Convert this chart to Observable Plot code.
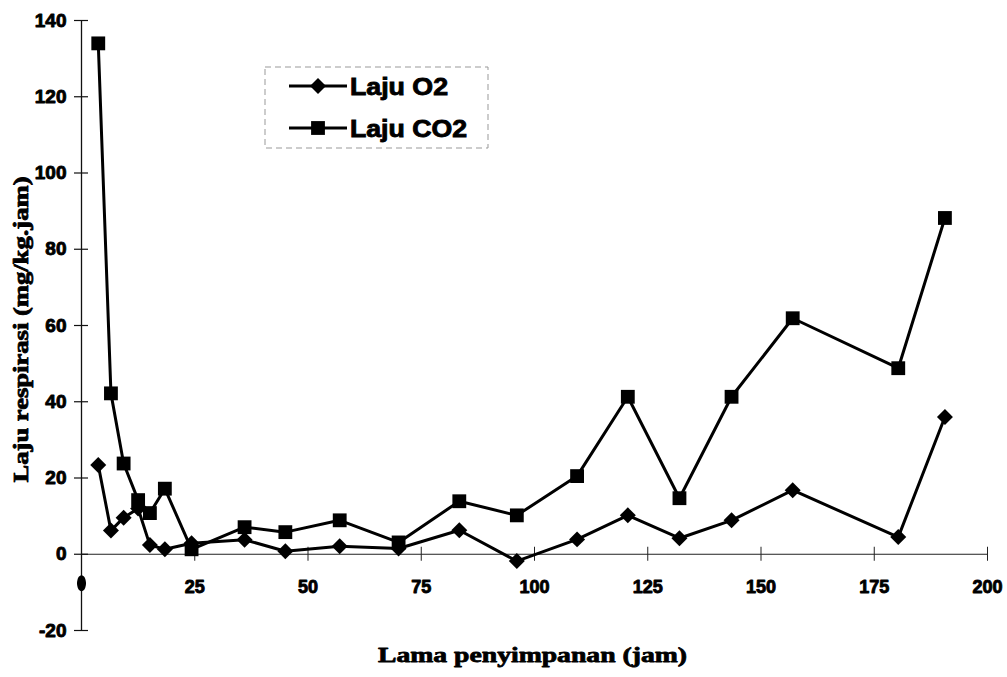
<!DOCTYPE html>
<html>
<head>
<meta charset="utf-8">
<script src="https://cdn.jsdelivr.net/npm/d3@7"></script>
<script src="https://cdn.jsdelivr.net/npm/@observablehq/plot@0.6"></script>
<style>
  html, body { margin: 0; padding: 0; background: #fff; }
  #chart { width: 1007px; height: 677px; }
</style>
</head>
<body>
<div id="chart"></div>
<script>
// ---- data ----
const hours = [3.7, 6.5, 9.3, 12.5, 15.1, 18.4, 24.3, 36, 45, 57, 70, 83.4, 96.1, 109.4, 120.6, 132, 143.5, 157, 180.3, 190.6];
const lajuO2 = [23.4, 6.2, 9.6, 12, 2.4, 1.3, 2.9, 3.8, 0.8, 2.1, 1.5, 6.3, -1.8, 3.9, 10.2, 4.2, 8.9, 16.8, 4.5, 36];
const lajuCO2 = [134, 42.2, 23.8, 14.2, 10.8, 17.2, 1.3, 7.1, 5.8, 8.9, 3.1, 13.9, 10.2, 20.5, 41.3, 14.7, 41.3, 61.9, 48.8, 88.2];
const strayHour = [0];
const strayValue = [-7.6];
const xTicks = [25, 50, 75, 100, 125, 150, 175, 200];
const yTicks = [-20, 0, 20, 40, 60, 80, 100, 120, 140];
const seriesNames = ["Laju O2", "Laju CO2"];
const xTitle = "Lama penyimpanan (jam)";
const yTitle = "Laju respirasi (mg/kg.jam)";

const o2Data = hours.map((h, i) => ({h, v: lajuO2[i]}));
const co2Data = hours.map((h, i) => ({h, v: lajuCO2[i]}));
const strayData = strayHour.map((h, i) => ({h, v: strayValue[i]}));

const ellipseSymbol = {
  draw(ctx, size) {
    const r = Math.sqrt(size / Math.PI);
    const rx = r * 0.9, ry = r * 1.6, k = 0.5523;
    ctx.moveTo(0, -ry);
    ctx.bezierCurveTo(k * rx, -ry, rx, -k * ry, rx, 0);
    ctx.bezierCurveTo(rx, k * ry, k * rx, ry, 0, ry);
    ctx.bezierCurveTo(-k * rx, ry, -rx, k * ry, -rx, 0);
    ctx.bezierCurveTo(-rx, -k * ry, -k * rx, -ry, 0, -ry);
    ctx.closePath();
  }
};

const sans = "'Liberation Sans', Arial, sans-serif";
const serif = "'Liberation Serif', 'Times New Roman', serif";

const chart = Plot.plot({
  width: 1007,
  height: 677,
  marginLeft: 81,
  marginRight: 20,
  marginTop: 20,
  marginBottom: 47,
  style: {background: "#fff", overflow: "visible"},
  x: {domain: [0, 200], axis: null},
  y: {domain: [-20, 140], axis: null},
  marks: [
    Plot.ruleY([0], {stroke: "#222", strokeWidth: 1}),
    Plot.ruleX([0], {stroke: "#111", strokeWidth: 1.3}),
    Plot.ruleX(xTicks, {y1: 0, y2: 0, insetTop: -7, insetBottom: -7, stroke: "#222", strokeWidth: 1}),
    Plot.ruleY(yTicks, {x1: 0, x2: 0, insetLeft: -7, insetRight: -7, stroke: "#111", strokeWidth: 1.2}),
    Plot.text(xTicks, {x: d => d, y: 0, dy: 33, text: d => String(d), fontSize: 18, fontWeight: "bold", fontFamily: sans, fill: "#000", stroke: "#000", strokeWidth: 0.9}),
    Plot.text(yTicks, {x: 0, y: d => d, dx: -15, textAnchor: "end", text: d => String(d), fontSize: 19, fontWeight: "bold", fontFamily: sans, fill: "#000", stroke: "#000", strokeWidth: 0.9}),
    Plot.text([xTitle], {frameAnchor: "bottom", textAnchor: "middle", dx: -2, dy: 31, lineAnchor: "bottom", fontSize: 22, fontWeight: "bold", fontFamily: serif, fill: "#000", stroke: "#000", strokeWidth: 0.8}),
    Plot.text([yTitle], {frameAnchor: "left", textAnchor: "middle", dx: -61, dy: 4, rotate: -90, fontSize: 22, fontWeight: "bold", fontFamily: serif, fill: "#000", stroke: "#000", strokeWidth: 0.8}),
    Plot.line(o2Data, {x: "h", y: "v", stroke: "#000", strokeWidth: 3}),
    Plot.line(co2Data, {x: "h", y: "v", stroke: "#000", strokeWidth: 3}),
    Plot.dot(o2Data, {x: "h", y: "v", symbol: "diamond2", r: 7.2, fill: "#000", stroke: "none"}),
    Plot.dot(co2Data, {x: "h", y: "v", symbol: "square", r: 7.8, fill: "#000", stroke: "none"}),
    Plot.dot(strayData, {x: "h", y: "v", symbol: ellipseSymbol, r: 5, fill: "#000", stroke: "none"})
  ]
});

document.getElementById("chart").appendChild(chart);

const svg = d3.select(chart);
// stretch the serif axis titles like the scanned original
svg.selectAll("text").filter(function() { return this.textContent === xTitle; })
  .attr("textLength", 309).attr("lengthAdjust", "spacingAndGlyphs");
svg.selectAll("text").filter(function() { return this.textContent === yTitle; })
  .attr("textLength", 306).attr("lengthAdjust", "spacingAndGlyphs");

// legend
const lg = svg.append("g").attr("class", "legend");
lg.append("rect").attr("x", 265).attr("y", 67).attr("width", 223).attr("height", 81)
  .attr("fill", "none").attr("stroke", "#999").attr("stroke-width", 1).attr("stroke-dasharray", "6 4");
const rows = [
  {name: seriesNames[0], y: 86, sym: d3.symbolDiamond2, r: 7.2},
  {name: seriesNames[1], y: 128, sym: d3.symbolSquare, r: 7.8}
];
rows.forEach(row => {
  lg.append("line").attr("x1", 289).attr("x2", 347).attr("y1", row.y).attr("y2", row.y)
    .attr("stroke", "#000").attr("stroke-width", 3);
  lg.append("path").attr("transform", `translate(318,${row.y})`)
    .attr("d", d3.symbol(row.sym, row.r * row.r * Math.PI)()).attr("fill", "#000");
  lg.append("text").attr("x", 350).attr("y", row.y + 9)
    .attr("text-anchor", "start")
    .attr("font-family", sans).attr("font-weight", "bold").attr("font-size", 24)
    .attr("fill", "#000").attr("stroke", "#000").attr("stroke-width", 0.9)
    .attr("textLength", row.name === "Laju O2" ? 98 : 117).attr("lengthAdjust", "spacingAndGlyphs")
    .text(row.name);
});
</script>
</body>
</html>
